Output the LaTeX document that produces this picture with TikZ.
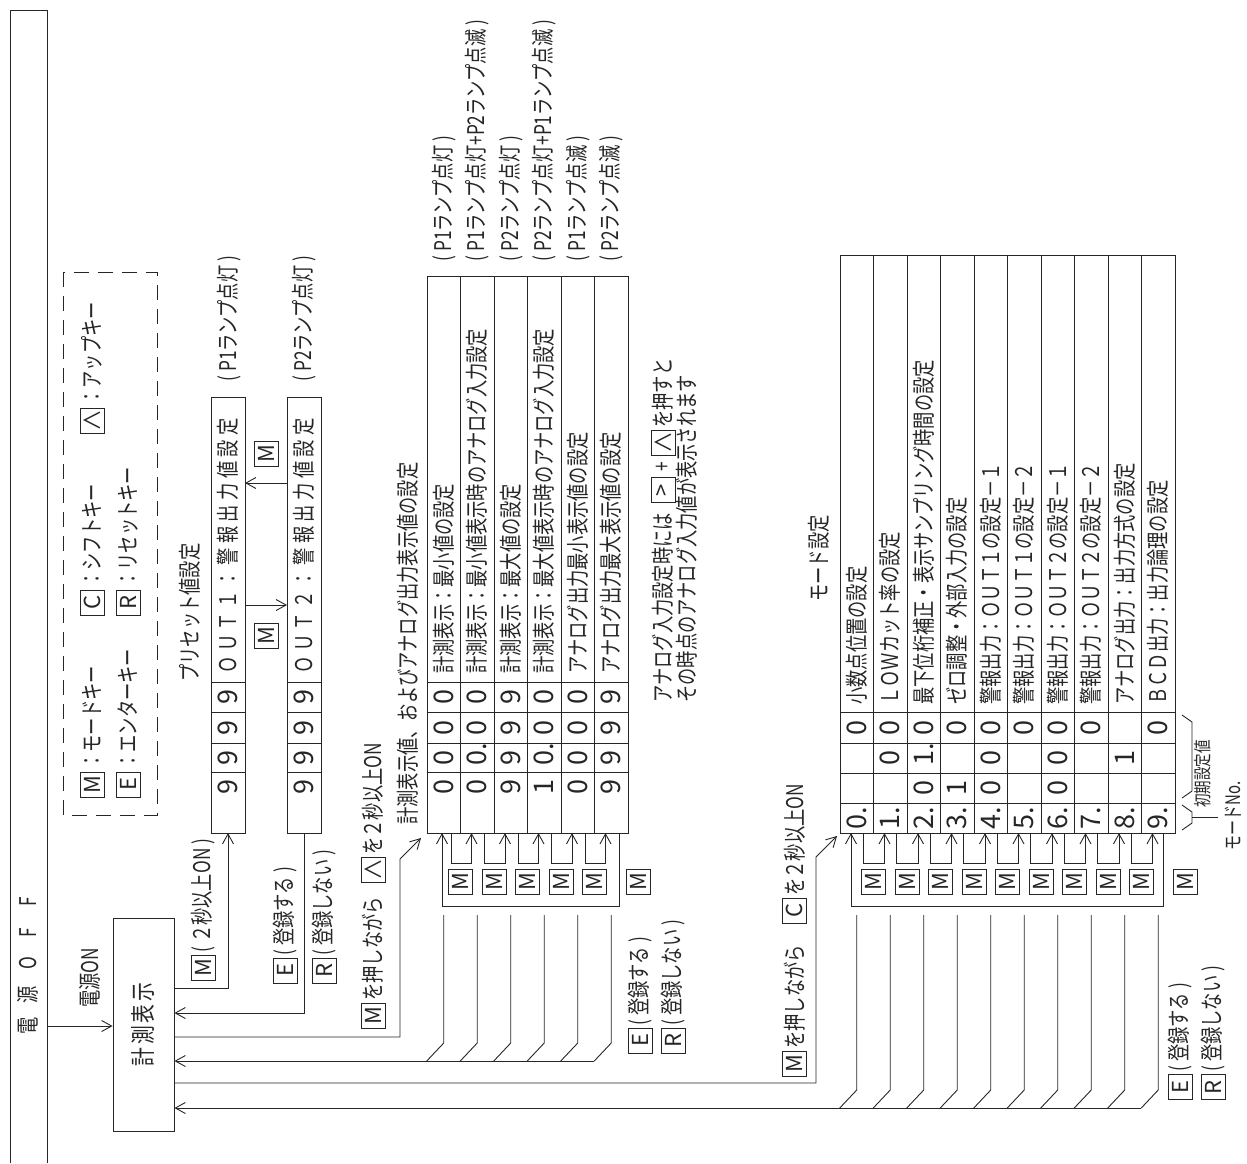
\documentclass[tikz,border=0pt]{standalone}
\usepackage{fontspec}
\usetikzlibrary{arrows.meta}
\newfontfamily\jp{Noto Sans CJK JP}[FakeStretch=0.75]
\newfontfamily\jpw{Noto Sans CJK JP}[FakeStretch=0.75,LetterSpace=19]
\newfontfamily\jpm{Noto Sans CJK JP}[FakeStretch=0.75,LetterSpace=12]
\newfontfamily\dg{Noto Sans CJK JP}
\newcommand\lp{(\hspace{4pt}}
\newcommand\rp{\hspace{4pt})}
\tikzset{
  tx/.style={rotate=90, anchor=west, inner sep=0pt, font=\jp\fontsize{23}{23}\selectfont},
  txs/.style={rotate=90, anchor=west, inner sep=0pt, font=\jp\fontsize{18}{18}\selectfont},
  keyb/.style={draw, rotate=90, minimum width=25pt, minimum height=24pt, inner sep=0pt, font=\dg\fontsize{22}{22}\selectfont},
  dgt/.style={rotate=90, inner sep=0pt, font=\dg\fontsize{27}{27}\selectfont},
  arr/.style={-{Straight Barb[length=10pt,width=11pt]}},
}
\begin{document}
\begin{tikzpicture}[x=1pt,y=-1pt,line width=0.9pt,color=black!85]
\useasboundingbox (0,0) rectangle (1247,1163);

% power off frame
\draw (10,1163) -- (10,10) -- (47,10) -- (47,1163);
\node[tx,anchor=center] (off) at (28,963.5) {\makebox[31pt]{電}\makebox[31pt]{源}\makebox[31pt]{O}\makebox[31pt]{F}\makebox[31pt]{F}};

% measuring display box
\node[draw, rotate=90, minimum width=213pt, minimum height=61pt, inner sep=0pt, font=\jpm\fontsize{25}{25}\selectfont] (meas) at (143.5,1024.5) {計測表示};
\draw[arr] (47,1026) -- (meas.north |- 0,1026);
\node[tx] (pon) at (90,1008) {電源ON};

% legend
\draw[dash pattern=on 15pt off 9pt] (63,272) rectangle (157,815);
\node[keyb] (lm) at (92,784.5) {M};  \node[tx] (lmt) at (92,770) {：モードキー};
\node[keyb] (lc) at (92,602.5) {C};  \node[tx] (lct) at (92,588) {：シフトキー};
\node[keyb] (lu) at (92,420.5) {∧};  \node[tx] (lut) at (92,406) {：アップキー};
\node[keyb] (le) at (128,784.5) {E}; \node[tx] (let) at (128,770) {：エンターキー};
\node[keyb] (lr) at (128,602.5) {R}; \node[tx] (lrt) at (128,588) {：リセットキー};

% preset table
\node[tx] (pset) at (190,682) {プリセット値設定};
\draw (211,397) rectangle (245,833);
\draw (287,397) rectangle (321,833);
\foreach \yy in {682,712,743,772} { \draw (211,\yy) -- (245,\yy); \draw (287,\yy) -- (321,\yy); }
\node[tx,font=\jpw\fontsize{23}{23}\selectfont] (o1) at (228,674) {ＯＵＴ１：警報出力値設定};
\node[tx,font=\jpw\fontsize{23}{23}\selectfont] (o2) at (304,674) {ＯＵＴ２：警報出力値設定};
\foreach \yy/\k in {697/a,727.5/b,757.5/c,787/d} {
  \node[dgt] (p1\k) at (228,\yy) {9};
  \node[dgt] (p2\k) at (304,\yy) {9};
}
\node[tx] (p1l) at (229,382) {\lp P1ランプ点灯\rp};
\node[tx] (p2l) at (304,382) {\lp P2ランプ点灯\rp};
\draw[arr] (245,605) -- (287,605);
\node[keyb] (pm1) at (266,635.5) {M};
\draw[arr] (287,483) -- (245,483);
\node[keyb] (pm2) at (266,454) {M};

% meas -> preset
\draw[arr] (meas.south |- 0,988) -- (228,988) -- (228,833);
\node[keyb] (k1) at (203,967.5) {M}; \node[tx] (k1t) at (203,953) {\lp２秒以上ON\rp};
\draw[arr] (304,833) -- (304,1013) -- (meas.south |- 0,1013);
\node[keyb] (k2) at (285,970.5) {E}; \node[tx] (k2t) at (285,956) {\lp 登録する\rp};
\node[keyb] (k3) at (324,970.5) {R}; \node[tx] (k3t) at (324,956) {\lp 登録しない\rp};

% meas -> measure table
\draw[arr] (meas.south |- 0,1037) -- (400,1037) -- (400,859) -- (421,838);
\node[keyb] (k4) at (373,1015.5) {M}; \node[tx] (k4t) at (373,1001) {を押しながら};
\node[keyb] (k5) at (373,869.5) {∧}; \node[tx] (k5t) at (373,855) {を２秒以上ON};
\node[tx] (mcap) at (408,825) {計測表示値、およびアナログ出力表示値の設定};

% measure table
\foreach \i in {0,...,5} \draw ({427+33.5*\i},276) rectangle ++(33.5,557);
\foreach \yy in {682,712,743,772} \draw (427,\yy) -- (628,\yy);
\foreach \i/\t in {0/計測表示：最小値の設定,1/計測表示：最小値表示時のアナログ入力設定,2/計測表示：最大値の設定,3/計測表示：最大値表示時のアナログ入力設定,4/アナログ出力最小表示値の設定,5/アナログ出力最大表示値の設定}
  \node[tx] (mt\i) at ({443.75+33.5*\i},674) {\t};
\foreach \i/\t in {0/P1ランプ点灯,1/P1ランプ点灯+P2ランプ点滅,2/P2ランプ点灯,3/P2ランプ点灯+P1ランプ点滅,4/P1ランプ点滅,5/P2ランプ点滅}
  \node[tx] (ml\i) at ({443.75+33.5*\i},262) {\lp\t\rp};
\foreach \i/\a/\b/\c/\d in {0/0/0/0/0,1/0/0/0\rlap{.}/0,2/9/9/9/9,3/0/0/0\rlap{.}/1,4/0/0/0/0,5/9/9/9/9} {
  \node[dgt] (ma\i) at ({443.75+33.5*\i},697) {\a};
  \node[dgt] (mb\i) at ({443.75+33.5*\i},727.5) {\b};
  \node[dgt] (mc\i) at ({443.75+33.5*\i},757.5) {\c};
  \node[dgt] (md\i) at ({443.75+33.5*\i},787) {\d};
}
\foreach \i in {0,...,4}
  \draw[arr] ({451+33.5*\i},833) -- ({451+33.5*\i},863) -- ({471.5+33.5*\i},863) -- ({471.5+33.5*\i},833);
\draw[arr] (619,833) -- (619,906) -- (442,906) -- (442,833);
\foreach \i in {1,...,5} \node[keyb] (mk\i) at ({427+33.5*\i},881.5) {M};
\node[keyb] (mk6) at (638,881.5) {M};
\foreach \i in {0,...,5} \draw ({443.75+33.5*\i},915) -- ++(0,128) -- ++(-17,18);
\draw[arr] (594.25,1061) -- (meas.south |- 0,1061);
\node[keyb] (me) at (640,1040.5) {E}; \node[tx] (met) at (640,1026) {\lp 登録する\rp};
\node[keyb] (mr) at (673,1040.5) {R}; \node[tx] (mrt) at (673,1026) {\lp 登録しない\rp};

% caption
\node[tx] (cap1) at (663,703) {アナログ入力設定時には};
\node[keyb] (cg) at (663,490) {>};
\node[tx,anchor=center] (cplus) at (663,466.5) {+};
\node[keyb] (cu) at (663,442.5) {∧};
\node[tx] (cap1b) at (663,428) {を押すと};
\node[tx] (cap2) at (687,703) {その時点のアナログ入力値が表示されます};

% meas -> mode table
\draw[arr] (meas.south |- 0,1083) -- (816,1083) -- (816,857) -- (837,836);
\node[keyb] (k6) at (794.5,1063.5) {M}; \node[tx] (k6t) at (794.5,1049) {を押しながら};
\node[keyb] (k7) at (794.5,910.5) {C}; \node[tx] (k7t) at (794.5,896) {を２秒以上ON};
\node[tx] (modet) at (819,602) {モード設定};

% mode table
\foreach \i in {0,...,9} \draw ({840+33.5*\i},255) rectangle ++(33.5,578);
\foreach \yy in {712,743,773,803} \draw (840,\yy) -- (1175,\yy);
\foreach \i/\t in {0/小数点位置の設定,1/ＬＯＷカット率の設定,2/最下位桁補正・表示サンプリング時間の設定,3/ゼロ調整・外部入力の設定,4/警報出力：ＯＵＴ１の設定－１,5/警報出力：ＯＵＴ１の設定－２,6/警報出力：ＯＵＴ２の設定－１,7/警報出力：ＯＵＴ２の設定－２,8/アナログ出力：出力方式の設定,9/ＢＣＤ出力：出力論理の設定}
  \node[tx] (dt\i) at ({856.75+33.5*\i},705) {\t};
\foreach \i/\a/\b/\c in {0/0//,1/0/0/,2/0/1\rlap{.}/0,3/0//1,4/0/0/0,5/0//,6/0/0/0,7/0//,8//1/,9/0//} {
  \node[dgt] (da\i) at ({856.75+33.5*\i},727.5) {\a};
  \node[dgt] (db\i) at ({856.75+33.5*\i},758) {\b};
  \node[dgt] (dc\i) at ({856.75+33.5*\i},788) {\c};
  \node[dgt] (dn\i) at ({856.75+33.5*\i},818) {\i.};
}
\foreach \i in {0,...,8}
  \draw[arr] ({863+33.5*\i},833) -- ({863+33.5*\i},863) -- ({884.5+33.5*\i},863) -- ({884.5+33.5*\i},833);
\draw[arr] (1163,833) -- (1163,906) -- (851,906) -- (851,833);
\foreach \i in {1,...,9} \node[keyb] (dk\i) at ({840+33.5*\i},881.5) {M};
\node[keyb] (dk10) at (1185,881.5) {M};
\foreach \i in {0,...,9} \draw ({856.75+33.5*\i},915) -- ++(0,175) -- ++(-17,18);
\draw[arr] (1141.25,1108) -- (meas.south |- 0,1108);
\node[keyb] (de) at (1180,1087) {E}; \node[tx] (det) at (1180,1072) {\lp 登録する\rp};
\node[keyb] (dr) at (1213,1087) {R}; \node[tx] (drt) at (1213,1072) {\lp 登録しない\rp};

% braces
\draw (1182,715) -- (1192,722) -- (1192,791) -- (1182,798);
\draw (1182,805) -- (1192,812) -- (1192,823) -- (1182,830);
\draw (1192,817.5) -- (1218,817.5);
\node[txs] (init) at (1203,808) {初期設定値};
\node[txs,font=\jp\fontsize{20}{20}\selectfont] (modeno) at (1233,851) {モードNo.};
\end{tikzpicture}
\end{document}
